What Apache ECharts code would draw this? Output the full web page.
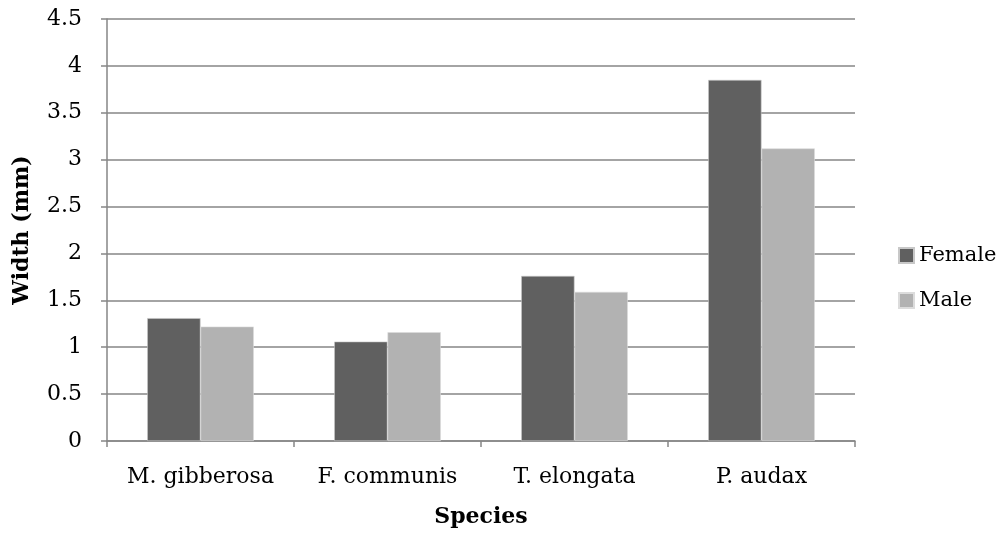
<!DOCTYPE html>
<html>
<head>
<meta charset="utf-8">
<script src="https://cdn.jsdelivr.net/npm/echarts@6/dist/echarts.min.js"></script>
<style>
  html, body { margin: 0; padding: 0; background: #fff; }
  #chart { width: 1004px; height: 533px; }
</style>
</head>
<body>
<div id="chart"></div>
<script>
// Mean width (mm) by species and sex
const species = ['M. gibberosa', 'F. communis', 'T. elongata', 'P. audax'];
const female = [1.31, 1.06, 1.76, 3.85];
const male = [1.22, 1.16, 1.59, 3.12];
const seriesNames = ['Female', 'Male'];

const FONT = 'DejaVu Serif';
const axisGrey = '#868686';

const chart = echarts.init(document.getElementById('chart'), null, { renderer: 'canvas' });

chart.setOption({
  animation: false,
  backgroundColor: '#ffffff',
  grid: {
    left: 107, right: 149, top: 19, bottom: 92,
    containLabel: false,
    outerBoundsMode: 'none'
  },
  legend: {
    orient: 'vertical',
    left: 893,
    top: 240,
    itemWidth: 15,
    itemHeight: 15,
    itemGap: 24,
    icon: 'rect',
    textStyle: { fontFamily: FONT, fontSize: 21, color: '#000' },
    data: seriesNames
  },
  xAxis: {
    type: 'category',
    data: species,
    name: 'Species',
    nameLocation: 'middle',
    nameGap: 65,
    nameTextStyle: { fontFamily: FONT, fontSize: 22, fontWeight: 'bold', color: '#000' },
    axisLine: { lineStyle: { color: axisGrey, width: 1.5 } },
    axisTick: { show: true, interval: 0, length: 6, lineStyle: { color: axisGrey, width: 1.5 } },
    axisLabel: { interval: 0, hideOverlap: false, fontFamily: FONT, fontSize: 22, color: '#000', margin: 25 },
    splitLine: { show: false }
  },
  yAxis: {
    type: 'value',
    min: 0,
    max: 4.5,
    interval: 0.5,
    name: 'Width (mm)',
    nameLocation: 'middle',
    nameGap: 74,
    nameRotate: 90,
    nameTextStyle: { fontFamily: FONT, fontSize: 22, fontWeight: 'bold', color: '#000' },
    axisLine: { show: true, lineStyle: { color: axisGrey, width: 1.5 } },
    axisTick: { show: true, length: 6, lineStyle: { color: axisGrey, width: 1.5 } },
    axisLabel: { fontFamily: FONT, fontSize: 22, color: '#000', margin: 25 },
    splitLine: { show: true, lineStyle: { color: axisGrey, width: 1.5 } }
  },
  series: [
    {
      name: seriesNames[0],
      type: 'bar',
      data: female,
      barGap: '0%',
      barCategoryGap: '43%',
      itemStyle: { color: '#606060', borderColor: '#c8c8c8', borderWidth: 0.6 }
    },
    {
      name: seriesNames[1],
      type: 'bar',
      data: male,
      barGap: '0%',
      barCategoryGap: '43%',
      itemStyle: { color: '#b2b2b2', borderColor: '#dcdcdc', borderWidth: 0.6 }
    }
  ]
});
</script>
</body>
</html>
